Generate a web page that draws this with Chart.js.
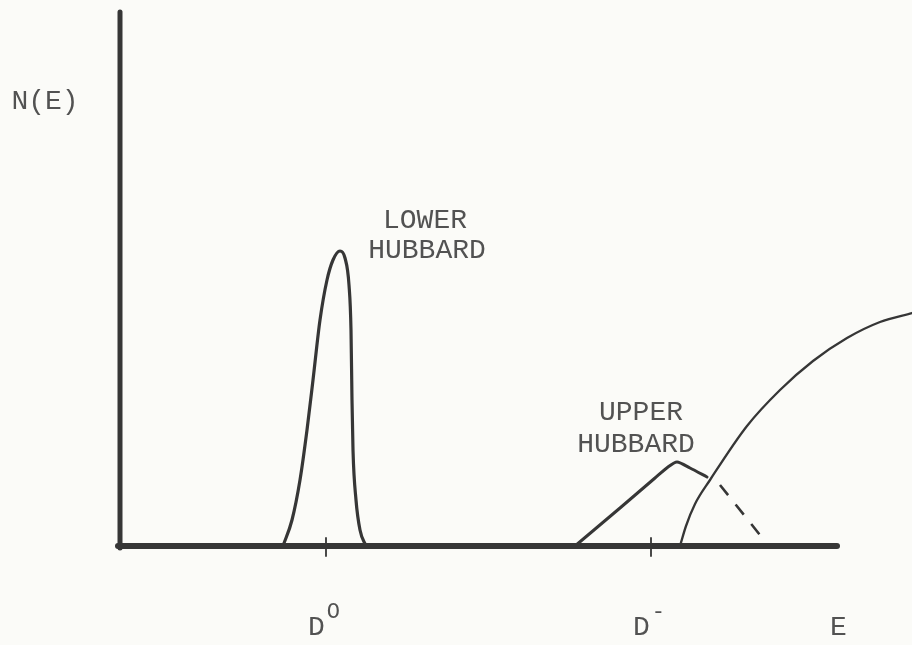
<!DOCTYPE html>
<html lang="en">
<head>
    <meta charset="UTF-8">
    <title>N(E) - Hubbard bands</title>
    <style>
        body {
            margin: 0;
            background: #fbfbf8;
        }
        #wrap {
            width: 912px;
            height: 645px;
        }
    </style>
</head>
<body>
    <div id="wrap">
        <canvas id="chart" width="912" height="645"></canvas>
    </div>

    <script src="https://cdn.jsdelivr.net/npm/chart.js"></script>
    <script>
        // energy (x) / density of states (y), arbitrary units
        const lowerE = [163, 172, 180, 187, 193, 200, 207, 213, 220, 225, 229, 231, 232, 233, 236, 240, 246];
        const lowerN = [0, 26, 66, 116, 166, 226, 266, 286, 295, 288, 261, 216, 146, 96, 46, 16, 0];

        const upperE = [455, 500, 535, 548, 557, 570, 587];
        const upperN = [0, 38, 68, 79, 84, 78, 69];

        const tailE = [600, 644];
        const tailN = [61, 6];

        const bandE = [560, 566, 575, 590, 627, 660, 693, 727, 760, 792];
        const bandN = [0, 20, 42, 66, 120, 156, 185, 208, 224, 233];

        const axisEnd = 717;
        const axisTop = 534;
        const tickLabels = ['D', 'D'];
        const tickSup = ['O', '-'];
        const tickE = [206, 531];

        const ink = '#363636';
        const textInk = '#525252';
        const font = '28px "Liberation Mono", "DejaVu Sans Mono", monospace';
        const supFont = '22px "Liberation Mono", "DejaVu Sans Mono", monospace';

        function pts(xs, ys) {
            return xs.map((x, i) => ({ x: x, y: ys[i] }));
        }

        function line(data, width, extra) {
            return Object.assign({
                data: data,
                showLine: true,
                pointRadius: 0,
                borderColor: ink,
                borderWidth: width,
                borderCapStyle: 'round',
                borderJoinStyle: 'round',
                fill: false,
                clip: false
            }, extra || {});
        }

        const datasets = [
            line([{ x: 0, y: -2 }, { x: 0, y: axisTop }], 5),
            line([{ x: -2, y: 0 }, { x: axisEnd, y: 0 }], 6),
            line(pts(lowerE, lowerN), 3.2, { cubicInterpolationMode: 'monotone' }),
            line(pts(upperE, upperN), 3, { tension: 0.25 }),
            line(pts(tailE, tailN), 2.6, { borderDash: [13, 12], borderCapStyle: 'butt' }),
            line(pts(bandE, bandN), 2.3, { cubicInterpolationMode: 'monotone' })
        ];
        tickE.forEach(e => {
            datasets.push(line([{ x: e, y: 8 }, { x: e, y: -10 }], 1.8));
        });

        // labels placed in data coordinates
        const textPlugin = {
            id: 'labels',
            beforeDraw(chart) {
                const c = chart.ctx;
                c.save();
                c.fillStyle = '#fbfbf8';
                c.fillRect(0, 0, chart.width, chart.height);
                c.restore();
            },
            afterDraw(chart) {
                const c = chart.ctx;
                const xs = chart.scales.x;
                const ys = chart.scales.y;
                const px = v => xs.getPixelForValue(v);
                const py = v => ys.getPixelForValue(v);
                c.save();
                c.fillStyle = textInk;
                c.font = font;
                c.textBaseline = 'alphabetic';

                c.textAlign = 'center';
                c.fillText('N(E)', px(-75), py(437));
                c.fillText('LOWER', px(305), py(318));
                c.fillText('HUBBARD', px(307), py(288));
                c.fillText('UPPER', px(521), py(126));
                c.fillText('HUBBARD', px(516), py(94));

                c.textAlign = 'left';
                tickE.forEach((e, i) => {
                    c.font = font;
                    const x0 = px(e) - 18;
                    c.fillText(tickLabels[i], x0, py(-89));
                    const w = c.measureText(tickLabels[i]).width;
                    c.font = supFont;
                    c.fillText(tickSup[i], x0 + w + 2, py(-72));
                });
                c.font = font;
                c.fillText('E', px(710), py(-89));
                c.restore();
            }
        };

        new Chart(document.getElementById('chart').getContext('2d'), {
            type: 'scatter',
            data: { datasets: datasets },
            options: {
                responsive: false,
                animation: false,
                layout: { padding: { left: 120, right: 0, top: 12, bottom: 99 } },
                plugins: { legend: { display: false }, tooltip: { enabled: false } },
                scales: {
                    x: { type: 'linear', min: 0, max: 792, display: false },
                    y: { type: 'linear', min: 0, max: 534, display: false }
                }
            },
            plugins: [textPlugin]
        });
    </script>
</body>
</html>
